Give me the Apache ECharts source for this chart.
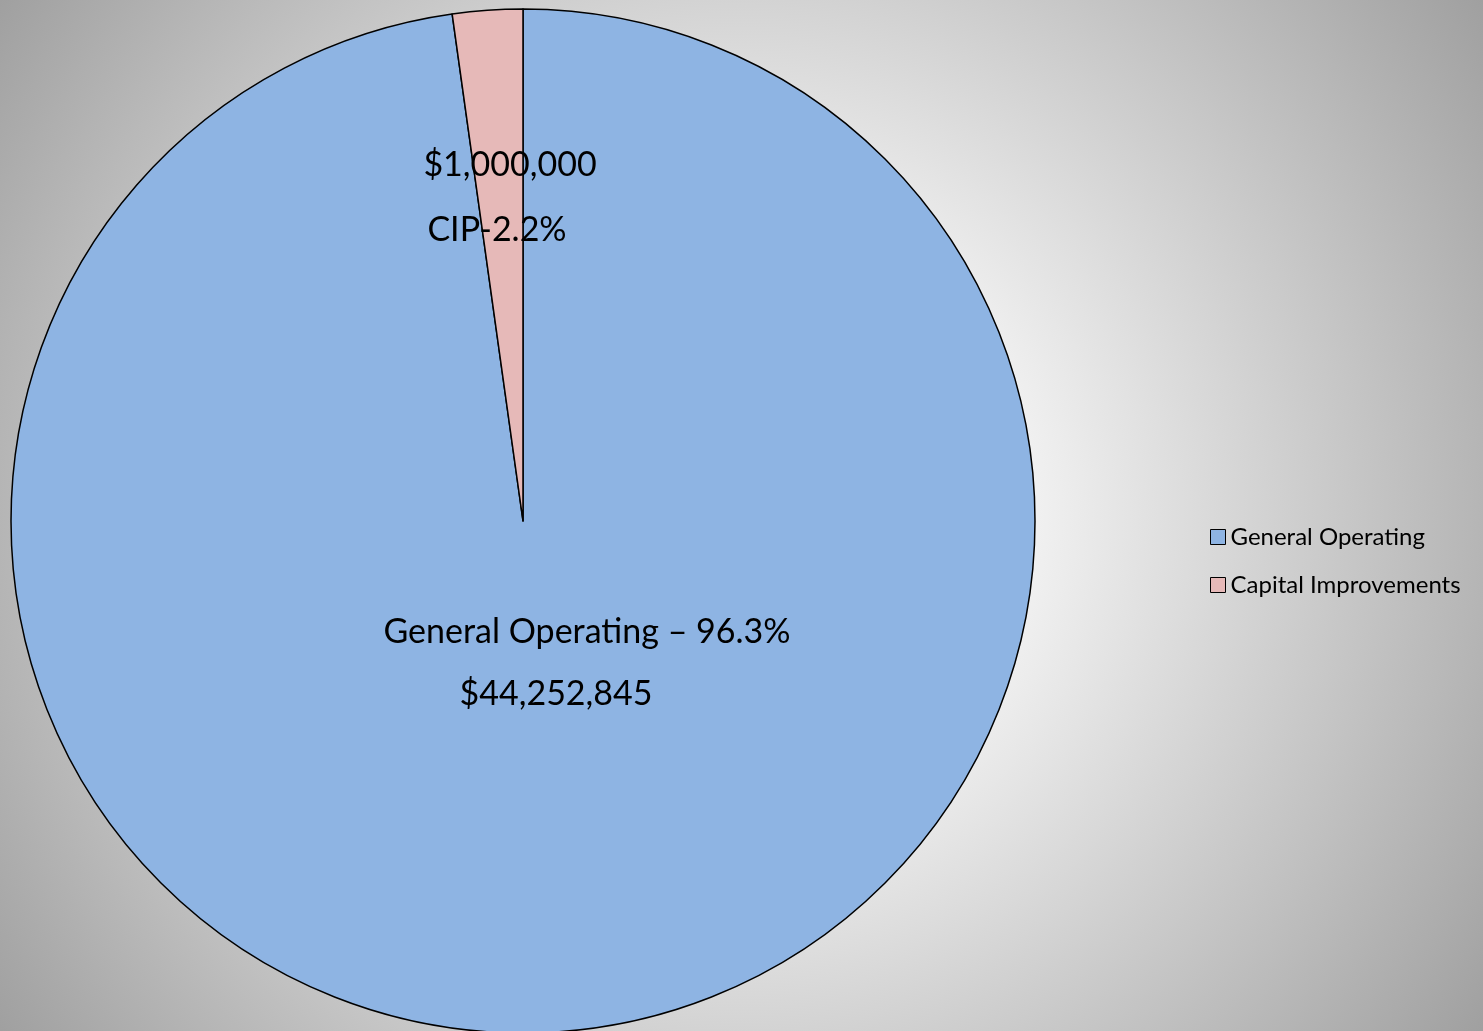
<!DOCTYPE html>
<html>
<head>
<meta charset="utf-8">
<script src="https://cdn.jsdelivr.net/npm/echarts@6/dist/echarts.min.js"></script>
<style>
  html, body { margin: 0; padding: 0; }
  #chart { width: 1483px; height: 1031px; }
</style>
</head>
<body>
<div id="chart"></div>
<script>
const categories = ['General Operating', 'Capital Improvements'];
const values = [44252845, 1000000];
const colors = ['#8EB4E3', '#E6B9B8'];
const labelTexts = [
  '{a|General Operating – 96.3%}\n{b|$44,252,845}',
  '{a|$1,000,000}\n{c|CIP-2.2%}'
];
const FONT = 'Lato, sans-serif';

const chart = echarts.init(document.getElementById('chart'));

chart.setOption({
  // grey frame, bright in the middle (Excel "from centre" fill)
  backgroundColor: new echarts.graphic.RadialGradient(741, 515, 902, [
    { offset: 0, color: '#ffffff' },
    { offset: 0.33, color: '#f0f0f0' },
    { offset: 1, color: '#a0a0a0' }
  ], true),
  animation: false,
  legend: {
    orient: 'vertical',
    left: 1205,
    top: 520,
    icon: 'rect',
    itemWidth: 15,
    itemHeight: 15,
    itemGap: 24,
    data: categories,
    itemStyle: { borderColor: '#000', borderWidth: 1 },
    textStyle: { color: '#000', fontFamily: FONT, fontSize: 24 }
  },
  series: [{
    type: 'pie',
    center: [523, 521],
    radius: 512,
    startAngle: 90,
    clockwise: true,
    avoidLabelOverlap: false,
    data: categories.map((name, i) => ({
      name: name,
      value: values[i],
      itemStyle: { color: colors[i] }
    })),
    itemStyle: { borderColor: '#000', borderWidth: 1.5 },
    labelLine: { show: false },
    label: {
      show: true,
      position: 'inside',
      color: '#000',
      fontFamily: FONT,
      formatter: p => labelTexts[p.dataIndex],
      rich: {
        a: { fontFamily: FONT, fontSize: 34, color: '#000', lineHeight: 62 },
        b: { fontFamily: FONT, fontSize: 34, color: '#000', lineHeight: 62, padding: [0, 62, 0, 0] },
        c: { fontFamily: FONT, fontSize: 34, color: '#000', lineHeight: 68, padding: [0, 26, 0, 0] }
      }
    },
    labelLayout: p => p.dataIndex === 0
      ? { x: 587, y: 663, align: 'center', verticalAlign: 'middle' }
      : { x: 510, y: 199, align: 'center', verticalAlign: 'middle' }
  }]
});
</script>
</body>
</html>
